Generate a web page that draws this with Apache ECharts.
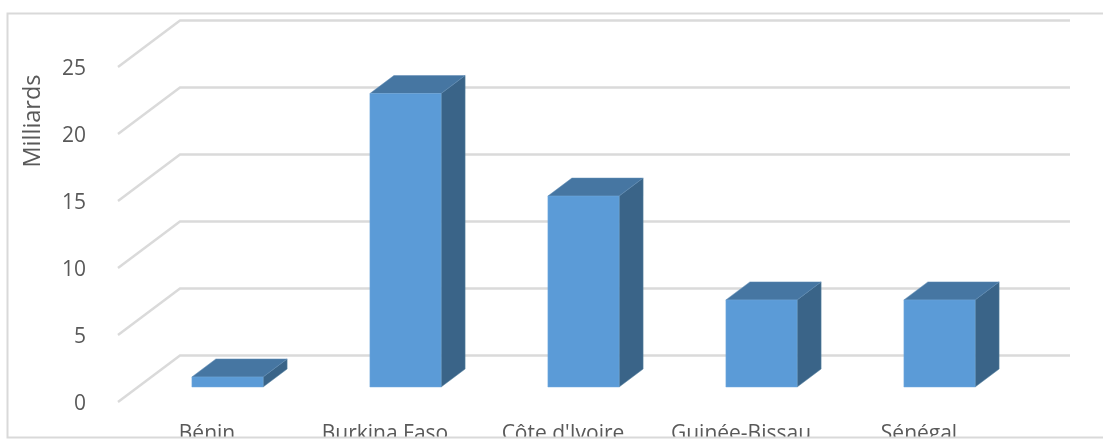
<!DOCTYPE html>
<html><head><meta charset="utf-8">
<style>html,body{margin:0;padding:0;background:#fff;overflow:hidden}#c{width:1103px;height:439px}</style>
<script src="https://cdn.jsdelivr.net/npm/echarts@6/dist/echarts.min.js"></script>
</head><body><div id="c"></div>
<script>
const categories = ['Bénin', 'Burkina Faso', "Côte d'Ivoire", 'Guinée-Bissau', 'Sénégal'];
const values = [0.75, 21.9, 14.25, 6.5, 6.5];
const yTicks = [0, 5, 10, 15, 20, 25];
const axisTitle = 'Milliards';

const font = '"Open Sans", sans-serif';
const textColor = '#595959';
const wall = [62, -46.5];
const barOffset = [20.5, -15];
const barDepth = [24, -18];
const chart = echarts.init(document.getElementById('c'), null, {renderer: 'canvas'});

function renderGrid(params, api) {
  const v = api.value(0);
  const cs = params.coordSys;
  const y = api.coord([0, v])[1];
  return {
    type: 'polyline', silent: true,
    shape: {points: [[cs.x, y], [cs.x + wall[0], y + wall[1]], [cs.x + cs.width + wall[0], y + wall[1]]]},
    style: {stroke: '#DADADA', lineWidth: 2.4, fill: null}
  };
}
function renderBar(params, api) {
  const i = api.value(0), v = api.value(1);
  const w = api.size([1, 0])[0] * 0.4;
  const base = api.coord([i, 0]), top = api.coord([i, v]);
  const l = base[0] + barOffset[0] - w / 2, r = l + w;
  const b = base[1] + barOffset[1], t = top[1] + barOffset[1];
  const dx = barDepth[0], dy = barDepth[1];
  return {type: 'group', children: [
    {type: 'polygon', shape: {points: [[r, b], [r + dx, b + dy], [r + dx, t + dy], [r, t]]}, style: {fill: '#3A6488', stroke: '#55809F', lineWidth: 0.5}},
    {type: 'polygon', shape: {points: [[l, t], [l + dx, t + dy], [r + dx, t + dy], [r, t]]}, style: {fill: '#4676A2', stroke: '#5F8BB5', lineWidth: 0.5}},
    {type: 'rect', shape: {x: l, y: t, width: w, height: b - t}, style: {fill: '#5B9BD7', stroke: '#70A8DC', lineWidth: 0.5}}
  ]};
}
chart.setOption({
  animation: false,
  backgroundColor: '#fff',
  grid: {left: 118, top: 67, width: 890, height: 335, containLabel: false, outerBoundsMode: 'none'},
  xAxis: {
    type: 'category', data: categories,
    axisLine: {show: false}, axisTick: {show: false}, splitLine: {show: false},
    axisLabel: {interval: 0, margin: 22, color: textColor, fontFamily: font, fontSize: 21, hideOverlap: false}
  },
  yAxis: {
    type: 'value', min: 0, max: 25, interval: 5,
    axisLine: {show: false}, axisTick: {show: false}, splitLine: {show: false},
    axisLabel: {margin: 32, verticalAlign: 'top', lineHeight: 5, color: textColor, fontFamily: font, fontSize: 21}
  },
  graphic: [
    {type: 'text', z: 50, x: 33, y: 121, rotation: Math.PI / 2,
     style: {text: axisTitle, fill: textColor, font: '23.5px ' + font, align: 'center', verticalAlign: 'middle'}},
    {type: 'rect', z: 100, shape: {x: 0, y: 438, width: 1103, height: 1}, style: {fill: '#fff'}},
    {type: 'rect', z: 101, shape: {x: 7.5, y: 13.5, width: 1120, height: 424}, style: {fill: 'transparent', stroke: '#D9D9D9', lineWidth: 2}}
  ],
  series: [
    {type: 'custom', coordinateSystem: 'cartesian2d', z: 1, clip: false, renderItem: renderGrid, encode: {y: 0},
     data: yTicks.map(v => [v])},
    {type: 'custom', coordinateSystem: 'cartesian2d', z: 2, clip: false, renderItem: renderBar, encode: {x: 0, y: 1},
     data: values.map((v, i) => [i, v])}
  ]
});
</script></body></html>
